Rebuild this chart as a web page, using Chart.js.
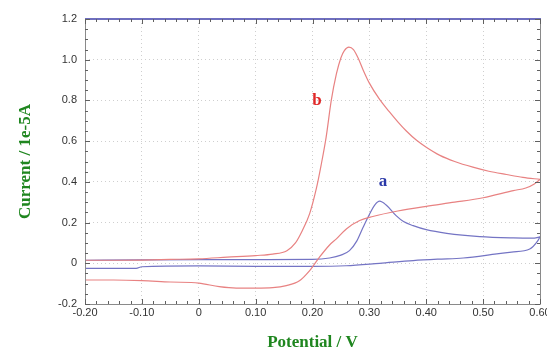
<!DOCTYPE html>
<html>
<head>
<meta charset="utf-8">
<script src="https://cdn.jsdelivr.net/npm/chart.js@4.4.1/dist/chart.umd.min.js"></script>
<style>
  html, body { margin: 0; padding: 0; background: #fff; }
  #wrap { width: 547px; height: 358px; }
</style>
</head>
<body>
<div id="wrap"><canvas id="cv"></canvas></div>
<script>
// curve b: forward scan then reverse scan
const bForwardPotential = [-0.2, -0.15, -0.1, -0.05, 0, 0.05, 0.1, 0.13, 0.155, 0.17, 0.182, 0.195, 0.207, 0.215, 0.224, 0.233, 0.242, 0.25, 0.256, 0.264, 0.272, 0.28, 0.289, 0.3, 0.318, 0.335, 0.35, 0.365, 0.383, 0.4, 0.424, 0.45, 0.482, 0.51, 0.541, 0.57, 0.6];
const bForwardCurrent = [0.015, 0.015, 0.016, 0.019, 0.022, 0.03, 0.038, 0.045, 0.062, 0.1, 0.16, 0.244, 0.37, 0.48, 0.62, 0.8, 0.93, 1.01, 1.045, 1.062, 1.05, 1.01, 0.95, 0.885, 0.805, 0.745, 0.695, 0.65, 0.604, 0.57, 0.53, 0.5, 0.472, 0.452, 0.436, 0.422, 0.412];
const bReversePotential = [0.6, 0.59, 0.575, 0.553, 0.5, 0.45, 0.4, 0.35, 0.306, 0.283, 0.26, 0.242, 0.23, 0.212, 0.195, 0.177, 0.154, 0.13, 0.1, 0.066, 0.036, 0, -0.05, -0.1, -0.15, -0.2];
const bReverseCurrent = [0.412, 0.39, 0.37, 0.357, 0.322, 0.3, 0.28, 0.257, 0.23, 0.21, 0.17, 0.12, 0.09, 0.029, -0.036, -0.086, -0.11, -0.12, -0.122, -0.122, -0.115, -0.097, -0.092, -0.085, -0.082, -0.082];

// curve a
const aForwardPotential = [-0.2, -0.1, 0, 0.1, 0.2, 0.23, 0.25, 0.265, 0.278, 0.289, 0.3, 0.31, 0.318, 0.33, 0.347, 0.36, 0.377, 0.4, 0.436, 0.494, 0.553, 0.59, 0.6];
const aForwardCurrent = [0.015, 0.017, 0.018, 0.018, 0.019, 0.026, 0.04, 0.062, 0.11, 0.177, 0.24, 0.288, 0.305, 0.285, 0.234, 0.205, 0.185, 0.165, 0.147, 0.131, 0.125, 0.124, 0.13];
const aReversePotential = [0.6, 0.596, 0.582, 0.55, 0.524, 0.465, 0.42, 0.377, 0.318, 0.259, 0.2, 0.1, 0, -0.1, -0.11, -0.2];
const aReverseCurrent = [0.13, 0.11, 0.07, 0.055, 0.046, 0.026, 0.02, 0.013, 0, -0.012, -0.015, -0.015, -0.013, -0.017, -0.025, -0.025];

const curveLabels = ['a', 'b'];

const toPts = (xs, ys) => xs.map((x, i) => ({x: x, y: ys[i]}));

// where the letters sit (data coords) and how they look
const letterSpots = {
    a: {x: 0.324, y: 0.40, color: '#2a38a8'},
    b: {x: 0.208, y: 0.80, color: '#e02828'}
};

const frame = {
    id: 'frame',
    afterDatasetsDraw(chart) {
        const {ctx, chartArea: ca, scales} = chart;
        const xs = scales.x, ys = scales.y;
        ctx.save();

        // borders
        ctx.lineWidth = 1;
        ctx.strokeStyle = '#8a8a8a';
        ctx.beginPath();
        ctx.moveTo(ca.left + 0.5, ca.top);
        ctx.lineTo(ca.left + 0.5, ca.bottom + 0.5);
        ctx.lineTo(ca.right + 0.5, ca.bottom + 0.5);
        ctx.lineTo(ca.right + 0.5, ca.top);
        ctx.stroke();
        ctx.lineWidth = 2;
        ctx.strokeStyle = '#6f6fbf';
        ctx.beginPath();
        ctx.moveTo(ca.left, ca.top);
        ctx.lineTo(ca.right + 1, ca.top);
        ctx.stroke();

        // inward ticks
        ctx.lineWidth = 1;
        ctx.strokeStyle = '#606060';
        ctx.beginPath();
        for (let i = 0; i <= 40; i++) {
            const v = -0.2 + i * 0.02;
            const px = Math.round(xs.getPixelForValue(v)) + 0.5;
            const len = i % 5 === 0 ? 5 : 3;
            ctx.moveTo(px, ca.bottom); ctx.lineTo(px, ca.bottom - len);
            ctx.moveTo(px, ca.top); ctx.lineTo(px, ca.top + len);
        }
        for (let i = 0; i <= 28; i++) {
            const v = -0.2 + i * 0.05;
            const py = Math.round(ys.getPixelForValue(v)) + 0.5;
            const len = i % 4 === 0 ? 5 : 3;
            ctx.moveTo(ca.left, py); ctx.lineTo(ca.left + len, py);
            ctx.moveTo(ca.right, py); ctx.lineTo(ca.right - len, py);
        }
        ctx.stroke();

        // curve letters
        ctx.font = 'bold 17px "Liberation Serif", serif';
        ctx.textAlign = 'center';
        ctx.textBaseline = 'middle';
        curveLabels.forEach(k => {
            const s = letterSpots[k];
            ctx.fillStyle = s.color;
            ctx.fillText(k, xs.getPixelForValue(s.x), ys.getPixelForValue(s.y));
        });
        ctx.restore();
    }
};

const tickFont = {family: '"Liberation Sans", Arial, sans-serif', size: 11};
const titleFont = {family: '"Liberation Serif", serif', size: 17, weight: 'bold'};
const green = '#1f861f';
const redLine = '#e88282', blueLine = '#7474c4';

const lineSet = (pts, color) => ({
    data: pts, showLine: true, borderColor: color, borderWidth: 1.2,
    pointRadius: 0, cubicInterpolationMode: 'monotone', fill: false
});

new Chart(document.getElementById('cv'), {
    type: 'scatter',
    data: {
        datasets: [
            lineSet(toPts(bForwardPotential, bForwardCurrent), redLine),
            lineSet(toPts(bReversePotential, bReverseCurrent), redLine),
            lineSet(toPts(aForwardPotential, aForwardCurrent), blueLine),
            lineSet(toPts(aReversePotential, aReverseCurrent), blueLine)
        ]
    },
    options: {
        responsive: true,
        maintainAspectRatio: false,
        animation: false,
        layout: {padding: {top: 19, right: 7, left: 0, bottom: 0}},
        plugins: {legend: {display: false}, tooltip: {enabled: false}},
        scales: {
            x: {
                type: 'linear',
                min: -0.2,
                max: 0.6,
                ticks: {
                    stepSize: 0.1,
                    padding: 2,
                    color: '#333',
                    font: tickFont,
                    maxRotation: 0,
                    callback: v => Math.abs(v) < 1e-9 ? '0' : v.toFixed(2)
                },
                grid: {color: '#cfcfcf', drawTicks: false},
                border: {display: false, dash: [1, 3]},
                title: {display: true, text: 'Potential / V', color: green, font: titleFont, padding: {top: 0, bottom: 5}},
                afterFit(scale) {
                    scale.height = 54;
                    scale.paddingLeft = 0;
                    scale.paddingRight = 0;
                }
            },
            y: {
                min: -0.2,
                max: 1.2,
                ticks: {
                    stepSize: 0.2,
                    padding: 8,
                    color: '#333',
                    font: tickFont,
                    callback: v => Math.abs(v) < 1e-9 ? '0' : v.toFixed(1)
                },
                grid: {color: '#cfcfcf', drawTicks: false},
                border: {display: false, dash: [1, 3]},
                title: {display: true, text: 'Current / 1e-5A', color: green, font: titleFont, padding: {top: 15, bottom: 0}},
                afterFit(scale) {
                    scale.width = 85;
                }
            }
        }
    },
    plugins: [frame]
});
</script>
</body>
</html>
